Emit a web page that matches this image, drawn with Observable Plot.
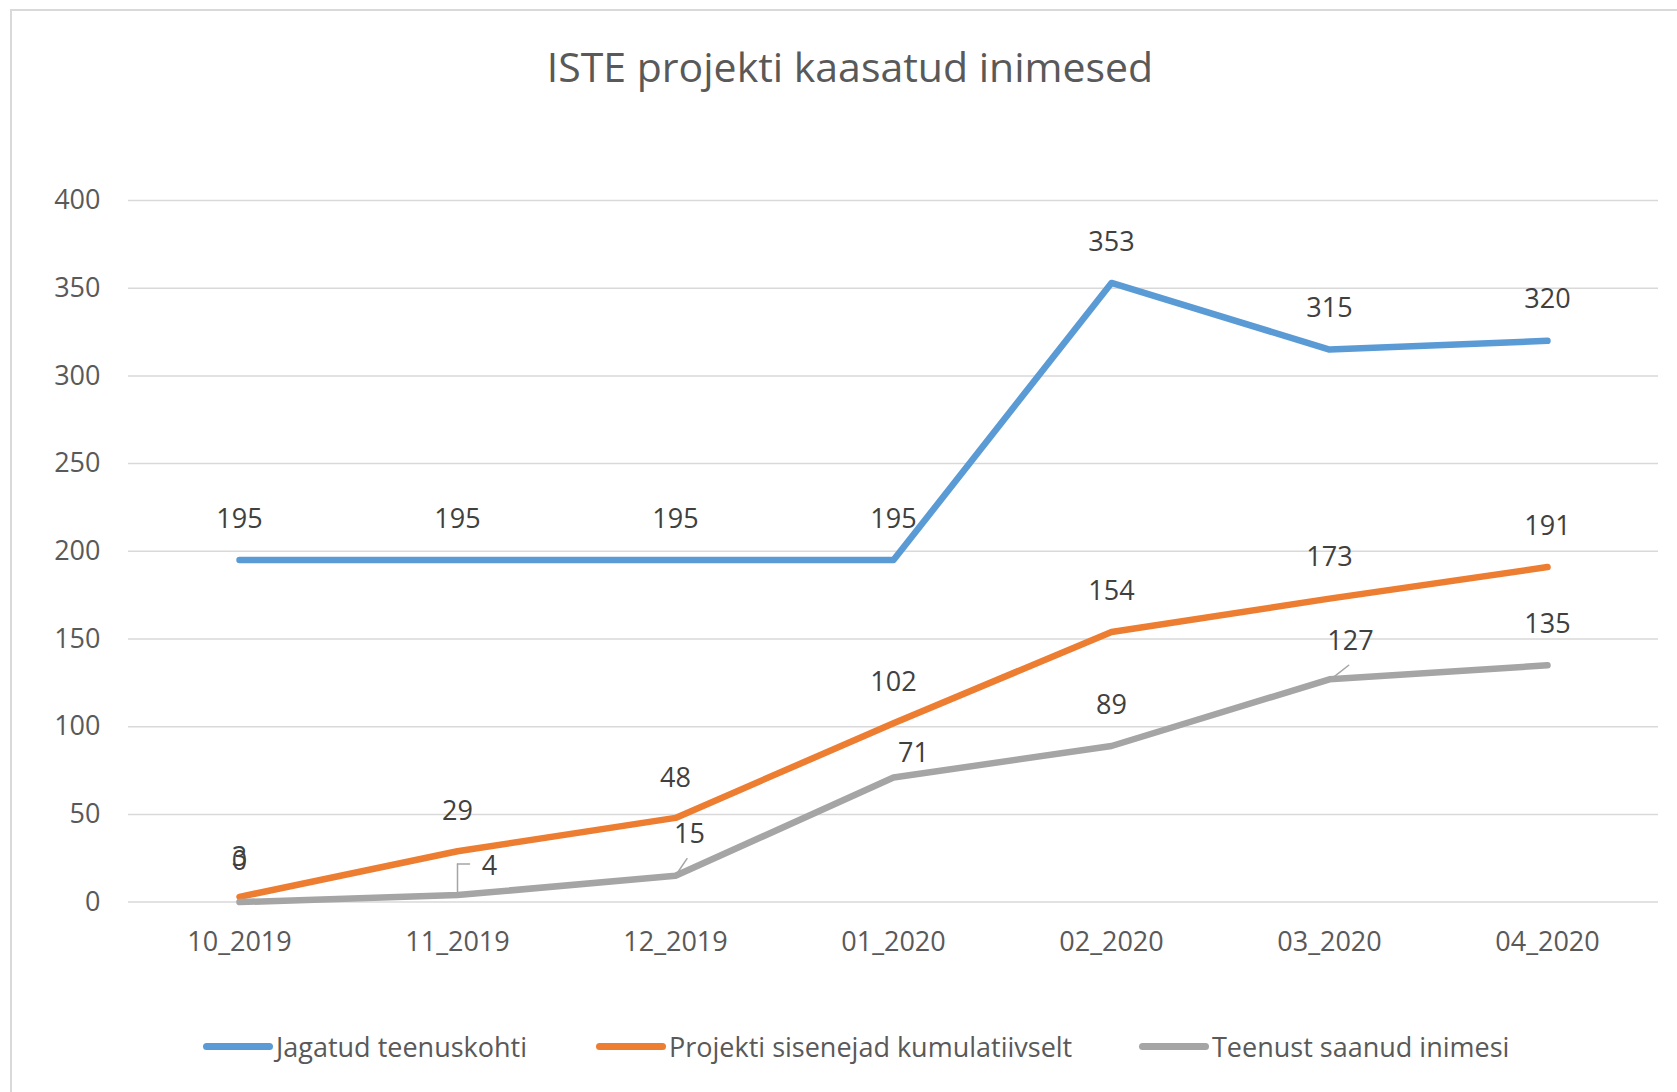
<!DOCTYPE html>
<html><head><meta charset="utf-8">
<script src="https://cdn.jsdelivr.net/npm/d3@7"></script>
<script src="https://cdn.jsdelivr.net/npm/@observablehq/plot@0.6"></script>
<style>
html,body{margin:0;padding:0;background:#fff;overflow:hidden;}
#page{position:relative;width:1677px;height:1092px;overflow:hidden;font-family:"Open Sans",sans-serif;color:#595959;}
#frame{position:absolute;left:10px;top:9px;width:1720px;height:1120px;border:2px solid #d9d9d9;box-sizing:border-box;}
#title{position:absolute;left:0;top:38px;width:1700px;text-align:center;font-size:41px;line-height:56px;color:#595959;}
#chart{position:absolute;left:0;top:150px;}
#legend{position:absolute;top:1028px;left:0;width:1677px;height:36px;}
.li{position:absolute;top:0;display:flex;align-items:center;height:36px;font-size:27px;color:#595959;white-space:nowrap;}
.li i{display:inline-block;width:70px;height:7px;border-radius:3.5px;margin-right:3px;}
</style></head>
<body><div id="page"><div id="frame"></div><div id="title"><span>ISTE projekti kaasatud inimesed</span></div><div id="chart"></div><div id="legend"></div></div>
<script>
const categories = ["10_2019","11_2019","12_2019","01_2020","02_2020","03_2020","04_2020"];
const jagatud = [195,195,195,195,353,315,320];
const sisenejad = [3,29,48,102,154,173,191];
const teenust = [0,4,15,71,89,127,135];
const seriesNames = ["Jagatud teenuskohti","Projekti sisenejad kumulatiivselt","Teenust saanud inimesi"];
const seriesColors = ["#5b9bd5","#ed7d31","#a5a5a5"];
const yTicks = [0,50,100,150,200,250,300,350,400];

// label placement (pixel offsets), per series per point
const labelDx = [[0,0,0,0,0,0,0],[0,0,0,0,0,0,0],[0,32,14,20,0,21,0]];
const labelDy = [[-41,-41,-41,-41,-41,-41,-41],[-39,-40,-40,-41,-41,-41,-41],[-41,-29,-41,-24,-41,-38,-41]];

const allSeries = [jagatud, sisenejad, teenust];
const rows = [];
allSeries.forEach((vals, s) => vals.forEach((v, i) => rows.push({cat: categories[i], v, s: seriesNames[s], si: s, i})));

const textMarks = rows.map(r => Plot.text([r], {x: "cat", y: "v", text: d => String(d.v), dx: labelDx[r.si][r.i], dy: labelDy[r.si][r.i], fontSize: 27, fill: "#404040"}));

const lineShape = {draw(context, l) { context.moveTo(0, 0); context.lineTo(0, -l); }};
const grayPts = rows.filter(r => r.si === 2);
const leader = (i, opts) => Plot.vector([grayPts[i]], {x: "cat", y: "v", anchor: "start", stroke: "#a5a5a5", strokeWidth: 1.5, shape: lineShape, ...opts});

const chart = Plot.plot({
  width: 1677, height: 840,
  marginLeft: 128, marginRight: 19, marginTop: 50, marginBottom: 88.4,
  style: {fontFamily: "Open Sans, sans-serif", fontSize: "27px", color: "#595959", background: "transparent"},
  x: {type: "point", domain: categories, padding: 0.5, label: null, tickSize: 0, tickPadding: 30},
  y: {domain: [0, 400], ticks: yTicks, label: null, tickSize: 0, tickPadding: 28},
  marks: [
    Plot.ruleY(yTicks, {stroke: "#d9d9d9", strokeWidth: 1.5}),
    Plot.line(rows, {x: "cat", y: "v", z: "s", stroke: d => seriesColors[d.si], strokeWidth: 6.5, strokeLinecap: "round", strokeLinejoin: "round"}),
    leader(1, {length: 31, rotate: 0}),
    leader(1, {length: 12, rotate: 90, dy: -31}),
    leader(2, {length: 17, rotate: 34, dx: 2, dy: -3}),
    leader(5, {length: 18, rotate: 52, dx: 5, dy: -3}),
    ...textMarks
  ]
});
document.getElementById("chart").appendChild(chart);

const legendX = [203, 596, 1139];
const leg = document.getElementById("legend");
seriesNames.forEach((n, k) => {
  const d = document.createElement("div");
  d.className = "li"; d.style.left = legendX[k] + "px";
  d.innerHTML = `<i style="background:${seriesColors[k]}"></i><span>${n}</span>`;
  leg.appendChild(d);
});
</script></body></html>
